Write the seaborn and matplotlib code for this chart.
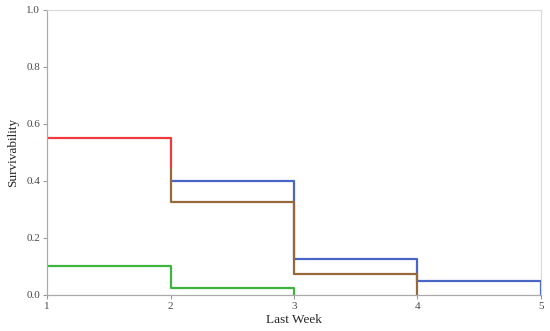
import pandas as pd
import matplotlib.pyplot as plt
import seaborn as sns

# survival step curves
red_week = [1, 2]
red_surv = [0.55, 0.45]
brown_week = [2, 2, 3, 4]
brown_surv = [0.45, 0.325, 0.075, 0.0]
blue_week = [2, 3, 4, 5]
blue_surv = [0.40, 0.125, 0.05, 0.0]
green_week = [1, 2, 3]
green_surv = [0.10, 0.025, 0.0]

x_ticks = [1, 2, 3, 4, 5]
y_ticks = [0.0, 0.2, 0.4, 0.6, 0.8, 1.0]

sns.set_style('white')
plt.rcParams['font.family'] = ['Liberation Serif', 'DejaVu Serif']

fig = plt.figure(figsize=(5.5, 3.31), dpi=100)
ax = fig.add_axes([0.0855, 0.109, 0.898, 0.861])

curves = [
    (blue_week, blue_surv, '#4a66c4'),
    (brown_week, brown_surv, '#96683a'),
    (red_week, red_surv, '#ee3a3a'),
    (green_week, green_surv, '#3db43d'),
]
for wk, sv, col in curves:
    df = pd.DataFrame({'week': wk, 'surv': sv})
    sns.lineplot(data=df, x='week', y='surv', estimator=None, sort=False,
                 drawstyle='steps-post', color=col, linewidth=1.6, ax=ax)

ax.set_xlim(1, 5)
ax.set_ylim(0, 1)
ax.set_xticks(x_ticks)
ax.set_xticklabels([str(t) for t in x_ticks])
ax.set_yticks(y_ticks)
ax.set_yticklabels(['%.1f' % t for t in y_ticks])
ax.set_yticks([0.1, 0.3, 0.5, 0.7, 0.9], minor=True)
ax.tick_params(axis='both', which='major', direction='out', length=3, width=0.8,
               color='#999999', labelsize=8, labelcolor='#4a4a4a', pad=2)
ax.tick_params(axis='y', which='minor', direction='out', length=2, width=0.6, color='#aaaaaa')
ax.tick_params(left=True, bottom=True)

for side in ['top', 'right']:
    ax.spines[side].set_color('#d8d8d8')
    ax.spines[side].set_linewidth(0.8)
for side in ['left', 'bottom']:
    ax.spines[side].set_color('#aaaaaa')
    ax.spines[side].set_linewidth(0.9)

ax.set_xlabel('Last Week', fontsize=9.5, labelpad=2)
ax.set_ylabel('Survivability', fontsize=9.5, labelpad=5)

fig.savefig('out.png', dpi=100)
